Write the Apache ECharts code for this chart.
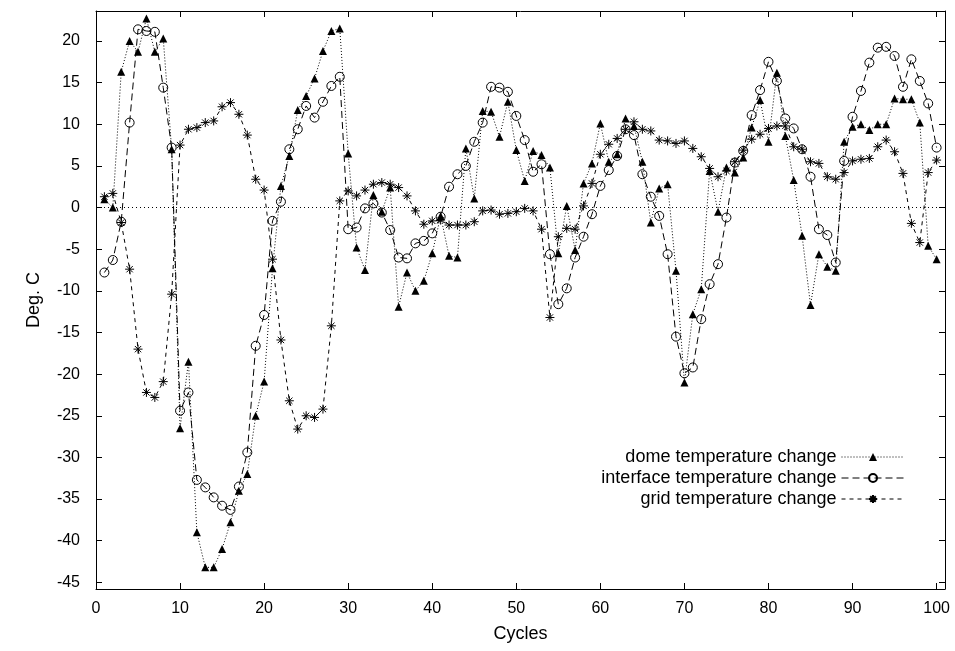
<!DOCTYPE html>
<html lang="en" style="height: 100%">
<head>
<meta charset="utf-8">
<title>Temperature change per cycle</title>
</head>
<body style="height: 100%; margin: 0; background: #fff">
<div id="container" style="height: 100%"></div>

<script type="text/javascript" src="https://cdn.jsdelivr.net/npm/echarts@6/dist/echarts.min.js"></script>

<script type="text/javascript">
var dom = document.getElementById('container');
var myChart = echarts.init(dom);

// cycle numbers 1..100
var cycles = [];
for (var c = 1; c <= 100; c++) cycles.push(c);

var dome = [1.0, 0.0, 16.3, 20.0, 18.7, 22.7, 18.7, 20.3, 7.0, -26.5,
  -18.5, -39.0, -43.2, -43.2, -41.0, -37.8, -34.0, -32.0, -25.0, -20.9,
  -7.3, 2.6, 6.2, 11.7, 13.4, 15.5, 18.8, 21.2, 21.5, 6.5,
  -4.8, -7.5, 1.5, -0.5, 2.4, -11.9, -7.8, -10.0, -8.8, -5.5,
  -1.0, -5.8, -6.0, 7.1, 1.1, 11.6, 11.5, 8.5, 12.7, 6.9,
  3.2, 6.8, 6.3, 4.8, -5.5, 0.2, -5.1, 2.9, 5.3, 10.1,
  5.5, 6.4, 10.7, 9.8, 5.5, -1.8, 2.3, 2.8, -7.6, -21.0,
  -12.8, -9.8, 4.4, -0.5, 4.8, 4.2, 6.0, 9.6, 12.9, 7.9,
  16.2, 8.6, 3.3, -3.4, -11.7, -5.6, -7.1, -7.6, 7.9, 9.7,
  10.0, 9.3, 10.0, 10.0, 13.1, 13.0, 13.0, 10.2, -4.6, -6.2];

var iface = [-7.8, -6.3, -1.7, 10.2, 21.4, 21.2, 21.1, 14.4, 7.2, -24.4,
  -22.2, -32.7, -33.6, -34.8, -35.8, -36.3, -33.5, -29.4, -16.6, -12.9,
  -1.6, 0.7, 7.0, 9.4, 12.2, 10.8, 12.7, 14.6, 15.7, -2.6,
  -2.4, -0.1, 0.5, -0.6, -2.7, -6.0, -6.1, -4.3, -4.0, -3.1,
  -1.1, 2.5, 4.0, 5.0, 7.9, 10.2, 14.5, 14.4, 13.9, 11.0,
  8.1, 4.3, 5.2, -5.6, -11.6, -9.7, -6.0, -3.5, -0.8, 2.6,
  4.5, 6.2, 9.4, 8.7, 4.0, 1.3, -1.0, -5.6, -15.5, -19.9,
  -19.2, -13.4, -9.2, -6.8, -1.2, 5.4, 6.8, 11.1, 14.1, 17.5,
  15.2, 10.7, 9.5, 7.0, 3.7, -2.6, -3.3, -6.6, 5.6, 10.9,
  14.0, 17.4, 19.2, 19.3, 18.2, 14.5, 17.8, 15.2, 12.5, 7.2];

var gridT = [1.3, 1.7, -1.8, -7.4, -17.0, -22.2, -22.8, -20.9, -10.4, 7.5,
  9.4, 9.6, 10.2, 10.4, 12.1, 12.6, 11.2, 8.7, 3.4, 2.1,
  -6.2, -15.9, -23.2, -26.6, -25.0, -25.2, -24.2, -14.2, 0.8, 2.0,
  1.4, 2.1, 2.8, 3.0, 2.8, 2.4, 1.4, -0.4, -2.0, -1.6,
  -1.5, -2.1, -2.1, -2.1, -1.7, -0.4, -0.3, -0.8, -0.7, -0.5,
  -0.1, -0.4, -2.6, -13.2, -3.5, -2.5, -2.6, 0.2, 2.9, 6.4,
  7.6, 8.3, 9.4, 10.3, 9.4, 9.2, 8.1, 8.0, 7.7, 8.0,
  7.1, 6.1, 4.7, 3.7, 4.4, 5.5, 6.9, 8.2, 8.8, 9.5,
  9.8, 9.8, 7.3, 7.0, 5.5, 5.3, 3.7, 3.4, 4.2, 5.6,
  5.8, 5.9, 7.3, 8.1, 6.7, 4.1, -1.9, -4.2, 4.2, 5.7];

var xTicks = [0, 10, 20, 30, 40, 50, 60, 70, 80, 90, 100];
var yTicks = [-45, -40, -35, -30, -25, -20, -15, -10, -5, 0, 5, 10, 15, 20];

var names = ['dome temperature change', 'interface temperature change', 'grid temperature change'];

function pairs(vals) {
  return vals.map(function (v, i) { return [cycles[i], v]; });
}

var font = 'Liberation Sans, Arial, Helvetica, sans-serif';
var starPath = 'path://M0,5L10,5M5,0L5,10M1.5,1.5L8.5,8.5M1.5,8.5L8.5,1.5';

function xAx(pos, labels) {
  return {
    type: 'value', position: pos, min: 0, max: 101,
    name: labels ? 'Cycles' : '', nameLocation: 'middle', nameGap: 36,
    nameTextStyle: { fontFamily: font, fontSize: 18, color: '#000' },
    axisLine: { show: true, onZero: false, lineStyle: { color: '#000', width: 1 } },
    axisTick: { show: true, inside: true, length: 6, customValues: xTicks, lineStyle: { color: '#000' } },
    axisLabel: { show: labels, customValues: xTicks, margin: 12, fontFamily: font, fontSize: 16, color: '#000' },
    splitLine: { show: false }
  };
}

function yAx(pos, labels) {
  return {
    type: 'value', position: pos, min: -45.8, max: 23.6,
    name: labels ? 'Deg. C' : '', nameLocation: 'middle', nameGap: 53, nameRotate: 90,
    nameTextStyle: { fontFamily: font, fontSize: 18, color: '#000' },
    axisLine: { show: true, onZero: false, lineStyle: { color: '#000', width: 1 } },
    axisTick: { show: true, inside: true, length: 6, customValues: yTicks, lineStyle: { color: '#000' } },
    axisLabel: { show: labels, customValues: yTicks, margin: 16, fontFamily: font, fontSize: 16, color: '#000' },
    splitLine: { show: false }
  };
}

function legendFor(name, top) {
  return {
    data: [name], orient: 'vertical', align: 'right', right: 50, top: top,
    itemWidth: 63, itemHeight: 10, padding: 0,
    lineStyle: { width: 1 },
    textStyle: { fontFamily: font, fontSize: 18, color: '#000' }
  };
}

var option = {
  animation: false,
  backgroundColor: '#fff',
  grid: { left: 96, right: 10, top: 11, bottom: 62 },
  xAxis: [xAx('bottom', true), xAx('top', false)],
  yAxis: [yAx('left', true), yAx('right', false)],
  legend: [
    legendFor(names[0], 448),
    legendFor(names[1], 469),
    legendFor(names[2], 490)
  ],
  series: [
    {
      name: names[0], type: 'line', data: pairs(dome),
      symbol: 'triangle', symbolSize: 8,
      itemStyle: { color: '#000' },
      lineStyle: { color: '#000', width: 1, type: [1, 2] },
      markLine: {
        silent: true, symbol: 'none', label: { show: false },
        lineStyle: { color: '#000', width: 1, type: [1, 3] },
        data: [{ yAxis: 0 }]
      }
    },
    {
      name: names[1], type: 'line', data: pairs(iface),
      symbol: 'circle', symbolSize: 9,
      itemStyle: { color: 'rgba(0,0,0,0)', borderColor: '#000', borderWidth: 1 },
      lineStyle: { color: '#000', width: 1, type: [7, 4] }
    },
    {
      name: names[2], type: 'line', data: pairs(gridT),
      symbol: starPath, symbolSize: 9,
      itemStyle: { color: 'rgba(0,0,0,0)', borderColor: '#000', borderWidth: 1 },
      lineStyle: { color: '#000', width: 1, type: [4, 4] }
    }
  ]
};

myChart.setOption(option);
window.addEventListener('resize', myChart.resize);
</script>
</body>
</html>
